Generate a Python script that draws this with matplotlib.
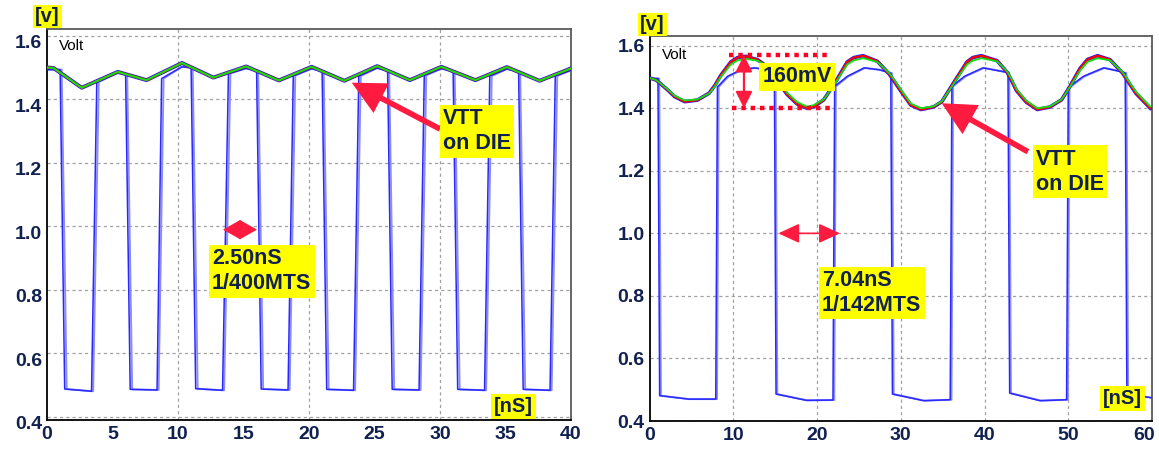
import matplotlib
matplotlib.use("Agg")
import matplotlib.pyplot as plt
from matplotlib.transforms import ScaledTranslation

plt.rcParams["font.family"] = ["Liberation Sans", "DejaVu Sans"]

NAVY = "#10204f"
YELLOW = "#ffff00"
ARROW_RED = "#ff1a40"
DQ_BLUE = "#2828ff"
DQ_LIGHT = "#8c8cff"
GRID = "#a0a0a0"

# ---------------- left: 400 MT/s, 40 ns window ----------------
left_xticks = [0, 5, 10, 15, 20, 25, 30, 35, 40]
left_xgrid = [10, 20, 30]
yticks = [0.4, 0.6, 0.8, 1.0, 1.2, 1.4, 1.6]

left_vtt_t = [0, 0.5, 2.65, 5.4, 7.6, 10.3, 12.7, 15.2, 17.7, 20.2,
              22.7, 25.2, 27.7, 30.1, 32.7, 35.1, 37.6, 40]
left_vtt_v = [1.501, 1.499, 1.437, 1.487, 1.461, 1.515, 1.469, 1.504, 1.460, 1.503,
              1.459, 1.505, 1.461, 1.503, 1.461, 1.502, 1.459, 1.498]

left_dq_t = [0, 1.0, 1.35, 3.4, 3.8, 5.4, 6.0, 6.35, 8.4, 8.75, 10.3, 11.0, 11.35,
             13.4, 13.85, 15.2, 16.0, 16.35, 18.4, 18.8, 20.2, 21.0, 21.35,
             23.4, 23.8, 25.2, 26.0, 26.35, 28.4, 28.8, 30.1, 31.0, 31.35,
             33.4, 33.8, 35.1, 36.0, 36.35, 38.4, 38.8, 40]
left_dq2_t = [0, 1.12, 1.5, 3.52, 3.95, 5.4, 6.12, 6.5, 8.52, 8.9, 10.3, 11.12, 11.5,
              13.52, 14.0, 15.2, 16.12, 16.5, 18.52, 18.95, 20.2, 21.12, 21.5,
              23.52, 23.95, 25.2, 26.12, 26.5, 28.52, 28.95, 30.1, 31.12, 31.5,
              33.52, 33.95, 35.1, 36.12, 36.5, 38.52, 38.95, 40]
left_dq_v = [1.494, 1.494, 0.488, 0.481, 1.455, 1.484, 1.480, 0.487, 0.485, 1.466,
             1.503, 1.500, 0.489, 0.484, 1.482, 1.498, 1.490, 0.488, 0.485, 1.475,
             1.497, 1.489, 0.487, 0.484, 1.474, 1.499, 1.490, 0.487, 0.485, 1.476,
             1.497, 1.489, 0.487, 0.484, 1.474, 1.496, 1.488, 0.487, 0.484, 1.474,
             1.492]

# ---------------- right: 142 MT/s, 60 ns window ----------------
right_xticks = [0, 10, 20, 30, 40, 50, 60]

right_vtt_t = [0, 0.8, 2.1, 3.0, 4.2, 5.7, 7.1, 7.8, 8.5, 9.7, 10.5, 11.5, 12.9, 14.0,
               14.8, 15.6, 16.4, 17.6, 18.8, 19.6, 20.8, 22.2, 23.6, 24.4, 25.5, 27.2,
               28.6, 29.3, 30.0, 31.2, 32.4, 33.9, 34.9, 36.3, 37.9, 38.6, 39.6, 41.5,
               42.7, 43.3, 43.8, 45.0, 46.3, 47.8, 49.2, 50.2, 51.4, 52.3, 53.5, 55.0,
               56.5, 57.3, 58.1, 59.8]
# die probes (blue / red)
right_vtt_die = [1.497, 1.490, 1.460, 1.437, 1.421, 1.426, 1.448, 1.473, 1.505, 1.548,
                 1.562, 1.566, 1.555, 1.534, 1.510, 1.476, 1.445, 1.414, 1.400, 1.405,
                 1.427, 1.484, 1.548, 1.562, 1.568, 1.550, 1.510, 1.483, 1.455, 1.410,
                 1.396, 1.404, 1.421, 1.481, 1.548, 1.562, 1.568, 1.552, 1.515, 1.485,
                 1.457, 1.419, 1.396, 1.404, 1.427, 1.470, 1.527, 1.556, 1.568, 1.555,
                 1.512, 1.479, 1.447, 1.400]
# green probe
right_vtt_grn = [1.497, 1.490, 1.462, 1.440, 1.425, 1.428, 1.447, 1.470, 1.500, 1.540,
                 1.553, 1.558, 1.552, 1.535, 1.515, 1.482, 1.450, 1.420, 1.405, 1.410,
                 1.428, 1.481, 1.540, 1.553, 1.560, 1.548, 1.513, 1.488, 1.460, 1.415,
                 1.400, 1.406, 1.422, 1.478, 1.540, 1.552, 1.560, 1.550, 1.518, 1.490,
                 1.462, 1.424, 1.400, 1.406, 1.428, 1.468, 1.520, 1.548, 1.560, 1.553,
                 1.515, 1.484, 1.452, 1.405]

right_dq_t = [0, 1.0, 1.2, 4.6, 7.9, 8.1, 9.3, 10.9, 12.5, 14.0, 14.9, 15.1, 18.7,
              21.9, 22.1, 23.6, 25.6, 27.4, 28.8, 29.0, 32.7, 35.9, 36.1, 37.6, 39.8,
              41.4, 42.8, 43.0, 46.6, 49.8, 50.0, 51.8, 54.2, 56.1, 56.8, 57.0, 60]
right_dq2_t = [0, 1.15, 1.35, 4.75, 8.05, 8.25, 9.45, 11.05, 12.65, 14.15, 15.05, 15.25,
               18.85, 22.05, 22.25, 23.75, 25.75, 27.55, 28.95, 29.15, 32.85, 36.05,
               36.25, 37.75, 39.95, 41.55, 42.95, 43.15, 46.75, 49.95, 50.15, 51.95,
               54.35, 56.25, 56.95, 57.15, 60]
right_dq_v = [1.495, 1.495, 0.481, 0.470, 0.470, 1.468, 1.502, 1.523, 1.529, 1.523,
              1.513, 0.486, 0.466, 0.467, 1.470, 1.502, 1.529, 1.523, 1.512, 0.486,
              0.465, 0.468, 1.470, 1.502, 1.529, 1.521, 1.514, 0.489, 0.465, 0.468,
              1.466, 1.502, 1.529, 1.518, 1.512, 0.487, 0.474]


def shift(artist, dx_px, dy_px):
    off = ScaledTranslation(dx_px / 100, dy_px / 100, artist.figure.dpi_scale_trans)
    artist.set_transform(artist.get_transform() + off)


def style_axes(ax, xticks, xlim, ylim, yoff_px):
    ax.set_xlim(*xlim)
    ax.set_ylim(*ylim)
    ax.set_xticks(xticks)
    ax.set_yticks(yticks)
    ax.set_yticklabels([f"{y:.1f}" for y in yticks])
    ax.tick_params(length=0, labelsize=14, labelcolor=NAVY)
    ax.tick_params(axis="x", pad=4)
    ax.tick_params(axis="y", pad=3.5)
    for lab in ax.get_xticklabels() + ax.get_yticklabels():
        lab.set_fontweight("bold")
    for lab in ax.get_yticklabels():
        shift(lab, 0, -yoff_px)
    for s in ("left", "bottom"):
        ax.spines[s].set_color("black")
        ax.spines[s].set_linewidth(1.3)
    for s in ("top", "right"):
        ax.spines[s].set_color("#5a5a5a")
        ax.spines[s].set_linewidth(1.3)


def grid(ax, xs, ys):
    for x in xs:
        ax.axvline(x, color=GRID, lw=0.9, ls=(0, (2.5, 2.5)), zorder=0)
    for y in ys:
        ax.axhline(y, color=GRID, lw=0.9, ls=(0, (2.5, 2.5)), zorder=0)


def box(ax, x, y, s, size=15.5):
    ax.text(x, y, s, ha="left", va="top", fontsize=size, fontweight="bold",
            color=NAVY, linespacing=1.25, clip_on=False, zorder=10,
            bbox=dict(boxstyle="square,pad=0.15", fc=YELLOW, ec="none"))


def big_arrow(ax, tip, tail):
    ax.annotate("", xy=tip, xytext=tail, zorder=9,
                arrowprops=dict(arrowstyle="simple,head_length=1.0,head_width=1.0,tail_width=0.17",
                                mutation_scale=24, fc=ARROW_RED, ec="none", lw=0,
                                shrinkA=0, shrinkB=0))


def span_arrow(ax, a, b, hl=1.2, hw=0.6, lw=1.5):
    ax.annotate("", xy=b, xytext=a, zorder=9,
                arrowprops=dict(arrowstyle=f"<|-|>,head_length={hl},head_width={hw}",
                                mutation_scale=10, color=ARROW_RED, lw=lw,
                                shrinkA=0, shrinkB=0))


fig = plt.figure(figsize=(11.59, 4.54), dpi=100)

# ---- left panel ----
axl = fig.add_axes([47 / 1159, 34 / 454, 524 / 1159, 391 / 454])
style_axes(axl, left_xticks, (0, 40), (0.3905, 1.622), 6)
grid(axl, left_xgrid, yticks)
axl.plot(left_dq2_t, left_dq_v, color=DQ_LIGHT, lw=1.4, zorder=2)
axl.plot(left_dq_t, left_dq_v, color=DQ_BLUE, lw=1.1, zorder=3)
axl.plot(left_vtt_t, left_vtt_v, color="#1a1aff", lw=2.8, zorder=4)
axl.plot(left_vtt_t, left_vtt_v, color="#ff0000", lw=1.8, zorder=5)
axl.plot(left_vtt_t, left_vtt_v, color="#10e010", lw=1.5, zorder=6)

axl.text(0.92, 1.591, "Volt", ha="left", va="top", fontsize=11, color="black")
big_arrow(axl, (23.26, 1.453), (30.0, 1.307))
box(axl, 30.23, 1.372, "VTT\non DIE")
span_arrow(axl, (13.44, 0.99), (16.03, 0.99), hl=1.15, hw=0.65, lw=0.8)
box(axl, 12.6, 0.931, "2.50nS\n1/400MTS")
box(axl, 34.1, 0.462, "[nS]", size=14.5)
fig.text(35 / 1159, 1 - 7 / 454, "[v]", ha="left", va="top", fontsize=14.5,
         fontweight="bold", color=NAVY,
         bbox=dict(boxstyle="square,pad=0.12", fc=YELLOW, ec="none"))

# ---- right panel ----
axr = fig.add_axes([649.6 / 1159, 33 / 454, 502.4 / 1159, 385 / 454])
style_axes(axr, right_xticks, (0, 60), (0.4, 1.631), 0)
shift(axr.get_xticklabels()[-1], -8, 0)
grid(axr, [10, 20, 30, 40, 50], yticks)
axr.plot(right_dq2_t, right_dq_v, color=DQ_LIGHT, lw=1.4, zorder=2)
axr.plot(right_dq_t, right_dq_v, color=DQ_BLUE, lw=1.1, zorder=3)
axr.plot(right_vtt_t, right_vtt_die, color="#1a1aff", lw=2.6, zorder=4)
axr.plot(right_vtt_t, right_vtt_die, color="#ff0000", lw=1.6, zorder=5)
axr.plot(right_vtt_t, right_vtt_grn, color="#10e010", lw=1.3, zorder=6)

axr.text(1.48, 1.594, "Volt", ha="left", va="top", fontsize=11, color="black")
axr.plot([9.48, 21.54], [1.570, 1.570], color="#ff0022", lw=3.2,
         ls=(0, (1, 1.1)), zorder=7)
axr.plot([9.8, 21.9], [1.400, 1.400], color="#ff0022", lw=3.2,
         ls=(0, (1, 1.1)), zorder=7)
span_arrow(axr, (11.27, 1.400), (11.27, 1.570), hl=1.0, hw=0.5, lw=1.6)
box(axr, 13.5, 1.534, "160mV")
big_arrow(axr, (34.88, 1.416), (45.18, 1.261))
box(axr, 46.15, 1.271, "VTT\non DIE")
span_arrow(axr, (15.37, 1.0), (22.73, 1.0), hl=1.3, hw=0.6, lw=1.2)
box(axr, 20.6, 0.883, "7.04nS\n1/142MTS")
box(axr, 54.1, 0.503, "[nS]", size=14.5)
fig.text(640 / 1159, 1 - 15 / 454, "[v]", ha="left", va="top", fontsize=14.5,
         fontweight="bold", color=NAVY,
         bbox=dict(boxstyle="square,pad=0.12", fc=YELLOW, ec="none"))

fig.savefig("out.png", dpi=100)
